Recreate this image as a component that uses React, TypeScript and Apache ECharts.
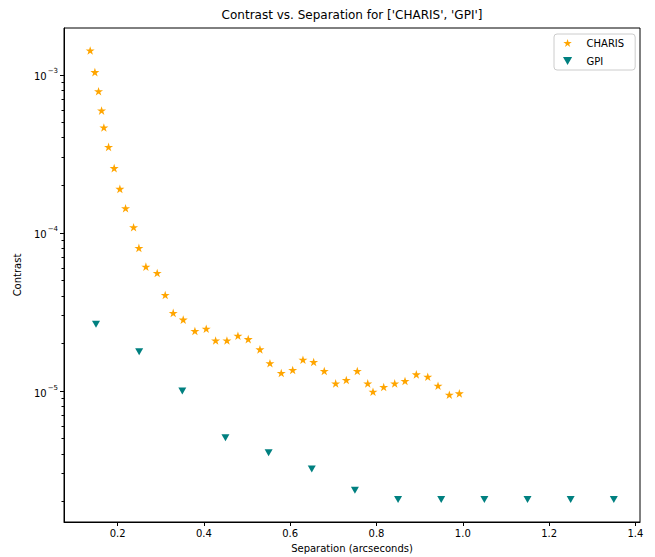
import React, { useEffect, useRef } from 'react';
import * as echarts from 'echarts';

const charisSeparation = [
  0.1365, 0.1474, 0.1559, 0.1629, 0.1682, 0.1791, 0.1921, 0.2053, 0.2185, 0.2371,
  0.2494, 0.2656, 0.2918, 0.3104, 0.3289, 0.3521, 0.3792, 0.4054, 0.4272, 0.4534,
  0.4789, 0.5028, 0.5299, 0.5531, 0.5793, 0.6058, 0.6296, 0.6544, 0.679, 0.7054,
  0.73, 0.7555, 0.7797, 0.7919, 0.8167, 0.8422, 0.8661, 0.8923, 0.9188, 0.9426,
  0.9688, 0.992,
];
const charisContrast = [
  1.426e-3, 1.04e-3, 7.88e-4, 5.94e-4, 4.64e-4, 3.5e-4, 2.57e-4, 1.9e-4, 1.433e-4, 1.087e-4,
  8.04e-5, 6.12e-5, 5.58e-5, 4.05e-5, 3.12e-5, 2.83e-5, 2.4e-5, 2.48e-5, 2.09e-5, 2.09e-5,
  2.24e-5, 2.13e-5, 1.835e-5, 1.5e-5, 1.3e-5, 1.36e-5, 1.578e-5, 1.526e-5, 1.338e-5, 1.118e-5,
  1.174e-5, 1.338e-5, 1.118e-5, 9.9e-6, 1.06e-5, 1.118e-5, 1.157e-5, 1.275e-5, 1.232e-5, 1.08e-5,
  9.47e-6, 9.67e-6,
];
const gpiSeparation = [0.15, 0.25, 0.35, 0.45, 0.55, 0.65, 0.75, 0.85, 0.95, 1.05, 1.15, 1.25, 1.35];
const gpiContrast = [2.65e-5, 1.773e-5, 1.0e-5, 5.06e-6, 4.07e-6, 3.21e-6, 2.36e-6, 2.06e-6, 2.06e-6, 2.06e-6, 2.06e-6, 2.06e-6, 2.06e-6];

const xTickValues = [0.2, 0.4, 0.6, 0.8, 1.0, 1.2, 1.4];
const yMajorTickValues = [1e-5, 1e-4, 1e-3];
const yMinorTickValues = [
  2e-6, 3e-6, 4e-6, 5e-6, 6e-6, 7e-6, 8e-6, 9e-6,
  2e-5, 3e-5, 4e-5, 5e-5, 6e-5, 7e-5, 8e-5, 9e-5,
  2e-4, 3e-4, 4e-4, 5e-4, 6e-4, 7e-4, 8e-4, 9e-4,
];

const titleText = "Contrast vs. Separation for ['CHARIS', 'GPI']";
const xName = 'Separation (arcseconds)';
const yName = 'Contrast';
const seriesNames = ['CHARIS', 'GPI'];

const STAR =
  'path://M0,-100 L22.45,-30.9 L95.11,-30.9 L36.33,11.8 L58.78,80.9 L0,38.2 L-58.78,80.9 L-36.33,11.8 L-95.11,-30.9 L-22.45,-30.9 Z';
const TRI_DOWN = 'path://M-8,-7 L8,-7 L0,7 Z';

const FONT = 'DejaVu Sans';

function powLabel(v: number): string {
  const e = Math.round(Math.log10(v));
  if (Math.abs(Math.log10(v) - e) > 1e-6) return '';
  return '{b|10}{s|\u2212' + String(Math.abs(e)) + '}';
}

export default function App() {
  const ref = useRef<HTMLDivElement>(null);
  useEffect(() => {
    if (!ref.current) return;
    const chart = echarts.init(ref.current, null, { renderer: 'svg' });

    const allX = [...charisSeparation, ...gpiSeparation];
    const allY = [...charisContrast, ...gpiContrast];
    const xMinD = Math.min(...allX), xMaxD = Math.max(...allX);
    const xm = 0.05 * (xMaxD - xMinD);
    const lyMin = Math.log10(Math.min(...allY)), lyMax = Math.log10(Math.max(...allY));
    const ym = 0.05 * (lyMax - lyMin);
    const yMin = Math.pow(10, lyMin - ym);
    const yMax = Math.pow(10, lyMax + ym);

    const axisColor = '#000';
    chart.setOption({
      animation: false,
      backgroundColor: '#fff',
      textStyle: { fontFamily: FONT },
      title: {
        text: titleText,
        left: 352,
        textAlign: 'center',
        top: 9,
        padding: 0,
        textStyle: { fontFamily: FONT, fontSize: 12, fontWeight: 'normal', color: '#000' },
      },
      grid: {
        left: 64, right: 15, top: 28, bottom: 35,
        show: true, borderColor: axisColor, borderWidth: 1, backgroundColor: 'transparent',
        containLabel: false, outerBoundsMode: 'none',
      },
      legend: {
        orient: 'vertical',
        left: 554,
        top: 34,
        padding: [4, 11, 4, 9],
        itemWidth: 28,
        itemHeight: 8,
        itemGap: 8,
        symbolKeepAspect: true,
        backgroundColor: 'rgba(255,255,255,0.8)',
        borderColor: '#cccccc',
        borderWidth: 1,
        borderRadius: 3,
        textStyle: { fontFamily: FONT, fontSize: 10, color: '#000' },
        data: [
          { name: seriesNames[0], icon: STAR },
          { name: seriesNames[1], icon: TRI_DOWN },
        ],
      },
      xAxis: {
        type: 'value',
        min: xMinD - xm,
        max: xMaxD + xm,
        name: xName,
        nameLocation: 'middle',
        nameGap: 21,
        nameTextStyle: { fontFamily: FONT, fontSize: 10, color: '#000' },
        axisLine: { show: true, lineStyle: { color: axisColor, width: 1 } },
        axisTick: { show: true, length: 4, customValues: xTickValues, lineStyle: { color: axisColor } },
        axisLabel: {
          customValues: xTickValues,
          formatter: (v: number) => v.toFixed(1),
          fontFamily: FONT, fontSize: 10, color: '#000', margin: 6,
        },
        splitLine: { show: false },
      },
      yAxis: [
        {
          type: 'log',
          logBase: 10,
          min: yMin,
          max: yMax,
          name: yName,
          nameLocation: 'middle',
          nameGap: 42,
          nameTextStyle: { fontFamily: FONT, fontSize: 10, color: '#000' },
          axisLine: { show: true, lineStyle: { color: axisColor, width: 1 } },
          axisTick: { show: true, length: 4, customValues: yMajorTickValues, lineStyle: { color: axisColor } },
          axisLabel: {
            customValues: yMajorTickValues,
            formatter: (v: number) => powLabel(v),
            margin: 6,
            rich: {
              b: { fontFamily: FONT, fontSize: 10, color: '#000', lineHeight: 14, verticalAlign: 'bottom' },
              s: { fontFamily: FONT, fontSize: 7, color: '#000', lineHeight: 14, verticalAlign: 'top', padding: [0, 0, 0, 1] },
            },
          },
          splitLine: { show: false },
          minorTick: { show: false },
        },
        {
          type: 'log',
          logBase: 10,
          min: yMin,
          max: yMax,
          position: 'left',
          offset: 0,
          axisLine: { show: false },
          axisTick: { show: true, length: 2.5, customValues: yMinorTickValues, lineStyle: { color: axisColor } },
          axisLabel: { show: false },
          splitLine: { show: false },
        },
      ],
      series: [
        {
          name: seriesNames[0],
          type: 'scatter',
          symbol: STAR,
          symbolSize: [9, 8.6],
          itemStyle: { color: '#FFA500', opacity: 1 },
          data: charisSeparation.map((x, i) => [x, charisContrast[i]]),
          z: 3,
        },
        {
          name: seriesNames[1],
          type: 'scatter',
          symbol: TRI_DOWN,
          symbolSize: [8, 7],
          itemStyle: { color: '#008080', opacity: 1 },
          data: gpiSeparation.map((x, i) => [x, gpiContrast[i]]),
          z: 3,
        },
      ],
    });
    return () => chart.dispose();
  }, []);
  return (
    <div
      ref={ref}
      style={{ position: 'fixed', left: 0, top: 0, width: 655, height: 557, background: '#fff' }}
    />
  );
}
